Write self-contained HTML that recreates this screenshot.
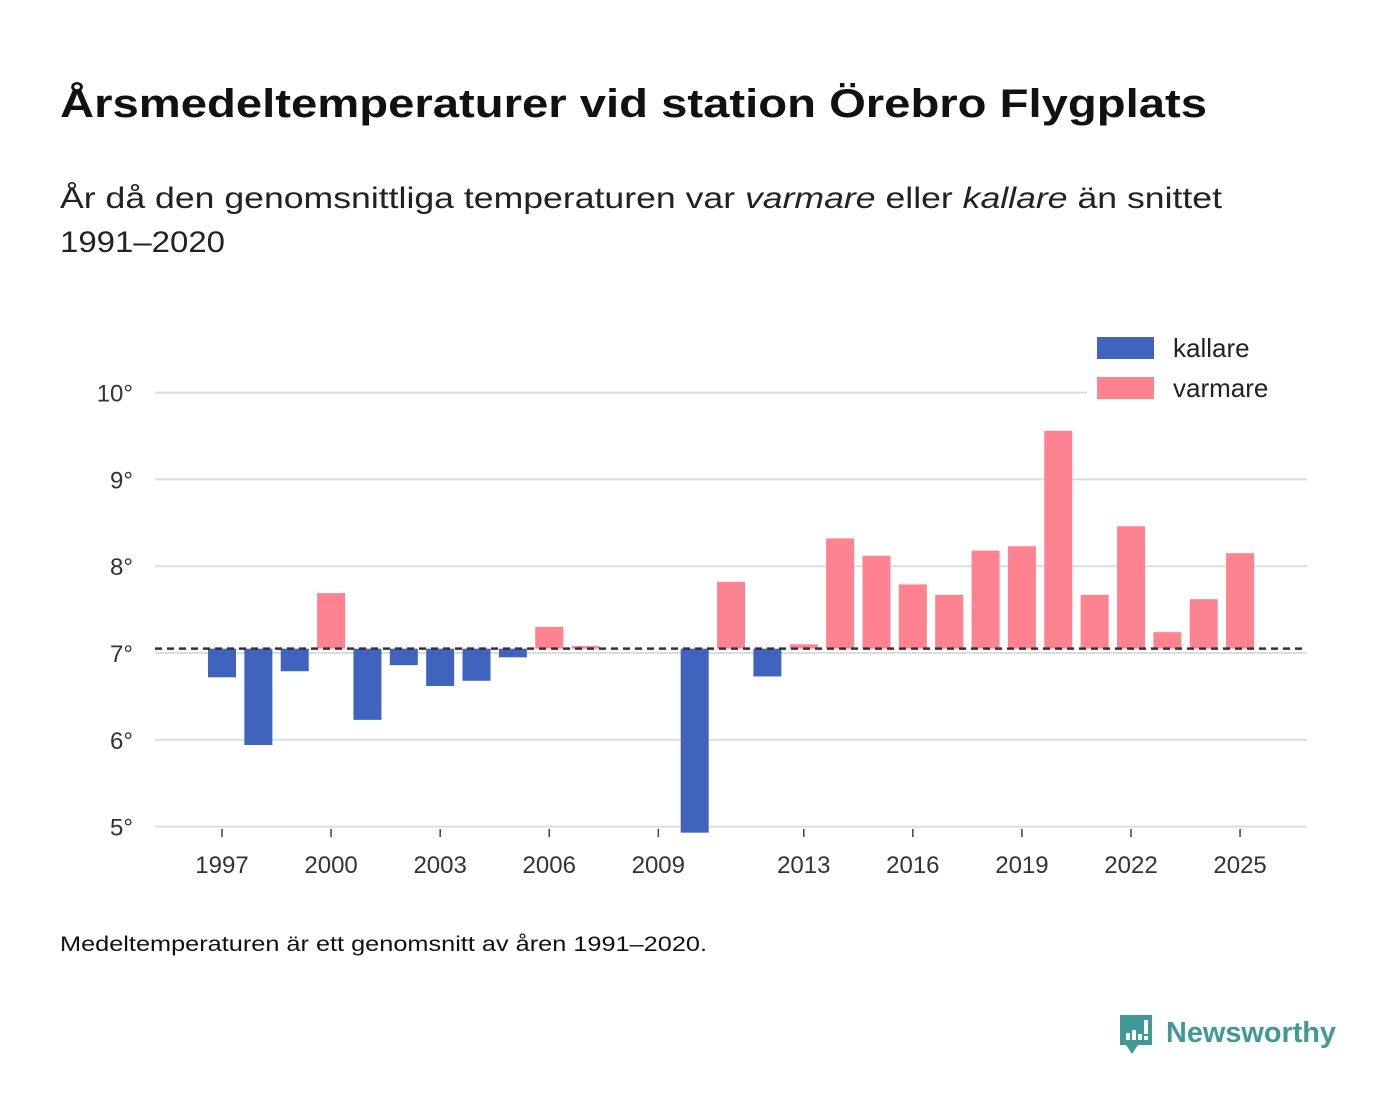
<!DOCTYPE html>
<html><head><meta charset="utf-8">
<style>
body{margin:0;background:#fff;}
svg{display:block;font-family:"Liberation Sans",sans-serif;}
</style></head>
<body>
<svg id="chart" width="1400" height="1116" viewBox="0 0 1400 1116">
  <text x="60" y="117" font-size="40" font-weight="bold" fill="#111" textLength="1147" lengthAdjust="spacingAndGlyphs">Årsmedeltemperaturer vid station Örebro Flygplats</text>
  <text x="60" y="208" font-size="30" fill="#222" textLength="1162" lengthAdjust="spacingAndGlyphs">År då den genomsnittliga temperaturen var <tspan font-style="italic">varmare</tspan> eller <tspan font-style="italic">kallare</tspan> än snittet</text>
  <text x="60" y="252" font-size="30" fill="#222" textLength="165" lengthAdjust="spacingAndGlyphs">1991–2020</text>
  <g id="grid"></g>
  <g id="bars"></g>
  <g id="xaxis"></g>
  <line id="avgline" x1="155" x2="1307" stroke="#333" stroke-width="2.5" stroke-dasharray="7,5"/>
  <g>
    <rect x="1097" y="337" width="57" height="22" fill="#4063be"/>
    <text x="1173" y="357" font-size="26" fill="#222">kallare</text>
    <rect x="1087" y="372" width="220" height="38" fill="#fff"/>
    <rect x="1097" y="377" width="57" height="22" fill="#ff8291"/>
    <text x="1173" y="397" font-size="26" fill="#222">varmare</text>
  </g>
  <text x="60" y="951" font-size="21" fill="#111" textLength="647" lengthAdjust="spacingAndGlyphs">Medeltemperaturen är ett genomsnitt av åren 1991–2020.</text>
  <g>
    <path d="M1120 1015 h32 v30 h-14 l-6 9 l-6 -9 h-6 z" fill="#3f9a95"/>
    <rect x="1126" y="1033" width="4" height="7" fill="#fff"/>
    <rect x="1132" y="1030" width="4" height="10" fill="#fff"/>
    <rect x="1138" y="1034" width="4" height="6" fill="#fff"/>
    <rect x="1144" y="1020" width="4" height="14" fill="#fff"/>
    <rect x="1144" y="1036" width="4" height="4" fill="#fff"/>
    <text x="1166" y="1042" font-size="29" font-weight="bold" fill="#3f9a95" textLength="170" lengthAdjust="spacingAndGlyphs">Newsworthy</text>
  </g>
</svg>
<script>
const years=[1997,1998,1999,2000,2001,2002,2003,2004,2005,2006,2007,2010,2011,2012,2013,2014,2015,2016,2017,2018,2019,2020,2021,2022,2023,2024,2025];
const temps=[6.72,5.94,6.79,7.69,6.23,6.86,6.62,6.68,6.95,7.30,7.08,4.93,7.82,6.73,7.10,8.32,8.12,7.79,7.67,8.18,8.23,9.56,7.67,8.46,7.24,7.62,8.15];
const average=7.05;
const yTicks=[5,6,7,8,9,10];
const xTicks=[1997,2000,2003,2006,2009,2013,2016,2019,2022,2025];
const NS='http://www.w3.org/2000/svg';
const y=v=>653-(v-7)*86.8;
const x=yr=>222+(yr-1997)*36.36;
function mk(t,a,p){const e=document.createElementNS(NS,t);for(const k in a)e.setAttribute(k,a[k]);p.appendChild(e);return e;}
const grid=document.getElementById('grid');
yTicks.forEach(v=>{
  const l=mk('line',{x1:155,x2:1307,y1:y(v),y2:y(v),stroke:'#ddd','stroke-width':2},grid);
  
  
  const t=mk('text',{x:133,y:y(v)+9,'font-size':24,fill:'#333','text-anchor':'end'},grid);
  t.textContent=v+'°';
  
  
});
const bars=document.getElementById('bars');
years.forEach((yr,i)=>{
  const v=temps[i];
  const top=y(Math.max(v,average)),bot=y(Math.min(v,average));
  const r=mk('rect',{x:x(yr)-14,y:top,width:28,height:bot-top,fill:v<average?'#4063be':'#ff8291'},bars);
  
  
});
const xa=document.getElementById('xaxis');
xTicks.forEach(yr=>{
  mk('line',{x1:x(yr),x2:x(yr),y1:829,y2:837,stroke:'#444','stroke-width':1.5},xa);
  const t=mk('text',{x:x(yr),y:873,'font-size':24,fill:'#333','text-anchor':'middle'},xa);
  t.textContent=yr;
  
  
});
const al=document.getElementById('avgline');
al.setAttribute('y1',y(average));al.setAttribute('y2',y(average));
</script>
</body></html>
